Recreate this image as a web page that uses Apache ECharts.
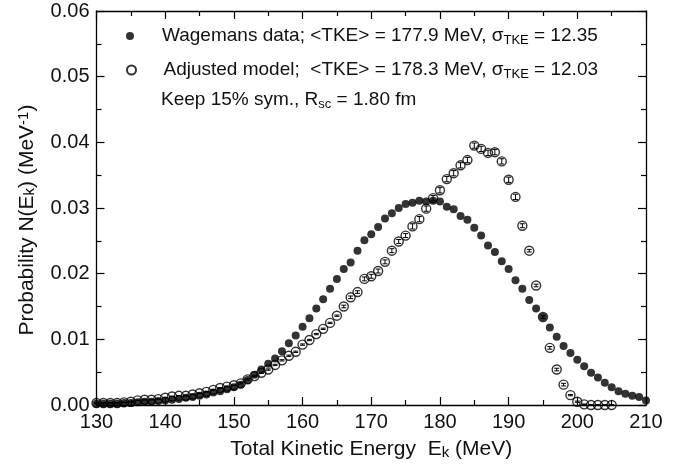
<!DOCTYPE html>
<html>
<head>
<meta charset="utf-8">
<script src="https://cdn.jsdelivr.net/npm/echarts@6/dist/echarts.min.js"></script>
<style>html,body{margin:0;padding:0;background:#fff}#c{width:687px;height:465px}</style>
</head>
<body>
<div id="c"></div>
<script>
// ---- data ----
var wagemansE = [130,131,132,133,134,135,136,137,138,139,140,141,142,143,144,145,146,147,148,149,150,
  151,152,153,154,155,156,157,158,159,160,161,162,163,164,165,166,167,168,169,170,
  171,172,173,174,175,176,177,178,179,180,181,182,183,184,185,186,187,188,189,190,
  191,192,193,194,195,196,197,198,199,200,201,202,203,204,205,206,207,208,209,210];
var wagemansProb = [0.0002,0.0002,0.0002,0.0002,0.0003,0.0003,0.0004,0.0005,0.0005,0.0006,0.0007,
  0.0008,0.0009,0.0011,0.0012,0.0014,0.0016,0.0019,0.0021,0.0024,0.0027,
  0.0031,0.0038,0.0046,0.0054,0.0063,0.0071,0.0082,0.0094,0.0106,0.0119,
  0.0132,0.0147,0.0161,0.0177,0.0192,0.0207,0.0217,0.0235,0.0251,0.0260,
  0.0271,0.0284,0.0292,0.0300,0.0306,0.0308,0.0311,0.0310,0.0311,0.0310,
  0.0302,0.0298,0.0288,0.0282,0.0270,0.0258,0.0243,0.0233,0.0219,0.0207,
  0.0190,0.0177,0.0160,0.0147,0.0134,0.0118,0.0104,0.0090,0.0079,0.0069,
  0.0059,0.0049,0.0042,0.0034,0.0027,0.0021,0.0017,0.0014,0.0012,0.0007];
var modelE = [130,131,132,133,134,135,136,137,138,139,140,141,142,143,144,145,146,147,148,149,150,
  151,152,153,154,155,156,157,158,159,160,161,162,163,164,165,166,167,168,169,170,
  171,172,173,174,175,176,177,178,179,180,181,182,183,184,185,186,187,188,189,190,
  191,192,193,194,195,196,197,198,199,200,201,202,203,204,205];
var modelProb = [0.0003,0.0003,0.0003,0.0003,0.0004,0.0005,0.0007,0.0008,0.0008,0.0009,0.0011,
  0.0013,0.0014,0.0014,0.0016,0.0018,0.0020,0.0023,0.0026,0.0028,0.0030,
  0.0033,0.0039,0.0044,0.0049,0.0054,0.0061,0.0068,0.0075,0.0081,0.0092,
  0.0099,0.0108,0.0116,0.0125,0.0136,0.0150,0.0164,0.0172,0.0192,0.0196,
  0.0204,0.0218,0.0235,0.0249,0.0258,0.0272,0.0283,0.0299,0.0315,0.0327,
  0.0344,0.0353,0.0365,0.0373,0.0395,0.0390,0.0384,0.0385,0.0371,0.0343,
  0.0317,0.0273,0.0235,0.0182,0.0134,0.0087,0.0054,0.0031,0.0015,0.0005,
  0.0001,0.0000,0.0000,0.0000,0.0000];
var modelErr = [0.00005,0.00005,0.00005,0.00005,0.00005,0.00005,0.00005,0.00005,0.00005,0.00005,0.00005,
  0.00005,0.00005,0.00005,0.00005,0.00005,0.00005,0.00005,0.00005,0.00005,0.00005,
  0.0001,0.0001,0.0001,0.0001,0.0001,0.0001,0.0001,0.0001,0.0001,0.0001,
  0.0001,0.0001,0.0001,0.0001,0.0001,0.0002,0.0002,0.0002,0.0003,0.0003,
  0.0003,0.0003,0.0003,0.0003,0.0003,0.0004,0.0004,0.0004,0.0004,0.0004,
  0.0004,0.0004,0.0004,0.0004,0.0004,0.0004,0.0004,0.0004,0.0004,0.0004,
  0.0004,0.0003,0.0002,0.0002,0.0002,0.0002,0.0002,0.0002,0.0001,0.0001,
  0.00005,0.00005,0.00005,0.00005,0.00005];
var xTicks = [130,140,150,160,170,180,190,200,210];
var yTicks = [0.00,0.01,0.02,0.03,0.04,0.05,0.06];
var legendLines = [
  'Wagemans data; <TKE> = 177.9 MeV, \u03c3{sub|TKE} = 12.35',
  'Adjusted model;  <TKE> = 178.3 MeV, \u03c3{sub|TKE} = 12.03',
  'Keep 15% sym., R{sub|sc} = 1.80 fm'
];
var xTitle = 'Total Kinetic Energy  E{sub|k} (MeV)';
var yTitle = 'Probability N(E{sub|k}) (MeV{sup|-1})';

// ---- chart ----
var INK = '#000';
var FONT = 'Liberation Sans, Arial, sans-serif';
function richFor(size, drop) {
  return {
    sub: {fontSize: size, fontFamily: FONT, color: INK, verticalAlign: 'bottom', lineHeight: size, padding: [drop,0,0,0]},
    sup: {fontSize: size, fontFamily: FONT, color: INK, verticalAlign: 'top', lineHeight: size, padding: [0,0,drop,0]}
  };
}
function axisBase(pos, isX, show) {
  return {
    type: 'value', position: pos,
    min: isX ? xTicks[0] : yTicks[0],
    max: isX ? xTicks[xTicks.length-1] : yTicks[yTicks.length-1],
    interval: isX ? 10 : 0.01,
    axisLine: {show: true, onZero: false, lineStyle: {color: INK, width: 1.3}},
    axisTick: {show: true, inside: true, length: 8, lineStyle: {color: INK, width: 1.2}},
    minorTick: {show: true, splitNumber: 2, length: 5, lineStyle: {color: INK, width: 1.2}},
    splitLine: {show: false},
    axisLabel: {show: show, color: '#111', fontSize: 20, fontFamily: FONT, margin: 7,
      formatter: isX ? function(v){return String(v);} : function(v){return v.toFixed(2);}}
  };
}
var xMain = axisBase('bottom', true, true);
xMain.name = xTitle; xMain.nameLocation = 'middle'; xMain.nameGap = 30;
xMain.nameTextStyle = {fontSize: 21, fontFamily: FONT, color: '#111', rich: richFor(15, 8)};
var xTop = axisBase('top', true, false);
var yMain = axisBase('left', false, true);
yMain.name = yTitle; yMain.nameLocation = 'middle'; yMain.nameGap = 52;
yMain.nameTextStyle = {fontSize: 21, fontFamily: FONT, color: '#111', rich: richFor(15, 8), padding: [0, 24, 0, 0]};
var yRight = axisBase('right', false, false);

var chart = echarts.init(document.getElementById('c'), null, {renderer: 'canvas'});
var legendText = {fontSize: 19, fontFamily: FONT, color: '#111', lineHeight: 22, rich: richFor(13, 7)};
chart.setOption({
  animation: false,
  backgroundColor: '#fff',
  grid: {left: 96.5, right: 41, top: 11, bottom: 60, containLabel: false},
  xAxis: [xMain, xTop],
  yAxis: [yMain, yRight],
  legend: [
    {data: ['Wagemans'], left: 121, top: 20, itemWidth: 54, itemHeight: 8, selectedMode: false,
     formatter: function(){return legendLines[0];}, textStyle: legendText},
    {data: ['Model'], left: 121, top: 54, itemWidth: 54, itemHeight: 9, selectedMode: false,
     formatter: function(){return legendLines[1];}, textStyle: legendText}
  ],
  graphic: [{type: 'text', left: 161, top: 89,
    style: {text: legendLines[2], fontSize: 19, fontFamily: FONT, fill: '#111', lineHeight: 22, rich: richFor(13, 7)}}],
  series: [
    {name: 'Model', type: 'scatter', z: 2, clip: false,
     data: modelE.map(function(e,i){return [e, modelProb[i]];}),
     symbol: 'circle', symbolSize: 9,
     itemStyle: {color: 'rgba(255,255,255,0)', borderColor: INK, borderWidth: 1.4}},
    {name: 'ModelErr', type: 'custom', z: 3, clip: false,
     data: modelE.map(function(e,i){return [e, modelProb[i], modelErr[i]];}),
     renderItem: function(params, api){
       var x = api.value(0), y = api.value(1), er = api.value(2);
       var t = api.coord([x, y + er]), b = api.coord([x, y - er]);
       var w = 2.5;
       var st = {stroke: INK, lineWidth: 1};
       return {type: 'group', children: [
         {type: 'line', shape: {x1: t[0], y1: t[1], x2: b[0], y2: b[1]}, style: st},
         {type: 'line', shape: {x1: t[0]-w, y1: t[1], x2: t[0]+w, y2: t[1]}, style: st},
         {type: 'line', shape: {x1: b[0]-w, y1: b[1], x2: b[0]+w, y2: b[1]}, style: st}
       ]};
     }},
    {name: 'Wagemans', type: 'scatter', z: 4, clip: false,
     data: wagemansE.map(function(e,i){return [e, wagemansProb[i]];}),
     symbol: 'circle', symbolSize: 8,
     itemStyle: {color: INK, borderWidth: 0}}
  ]
});
</script>
</body>
</html>
